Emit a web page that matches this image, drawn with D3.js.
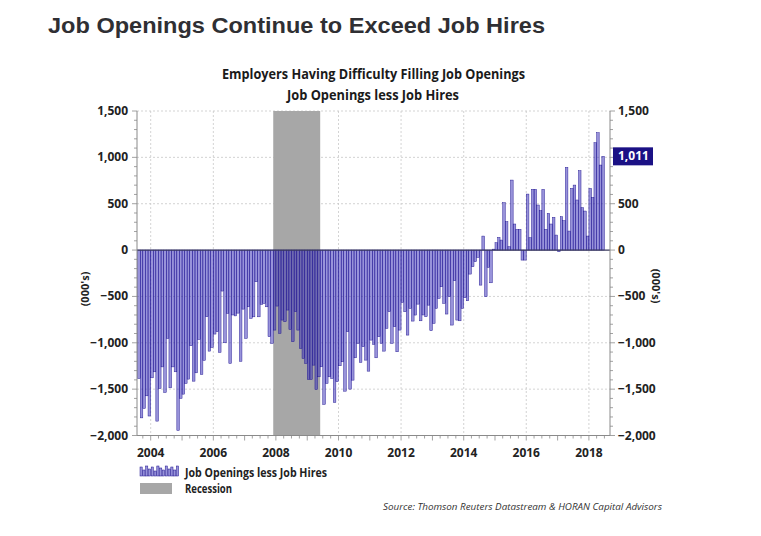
<!DOCTYPE html>
<html>
<head>
<meta charset="utf-8">
<script src="https://cdn.jsdelivr.net/npm/d3@7"></script>
<style>
  html, body { margin: 0; padding: 0; background: #fff; }
  svg { display: block; }
</style>
</head>
<body>
<svg id="chart" width="761" height="536"></svg>
<script>
// ---------------- DATA ----------------
const firstMonth = "2003-08-01";   // monthly series, Aug 2003 .. Jun 2018
const openingsLessHires = [
  -1385, -1810, -1708, -1572, -1790, -1378, -1313, -1845, -1493, -1260,
  -1536, -953, -1486, -1260, -1313, -1946, -1600, -1554, -1439, -1392,
  -1032, -1414, -1324, -964, -1342, -1190, -719, -1090, -1050, -906,
  -881, -1104, -442, -1000, -683, -1223,
  -700, -710, -680, -1200, -637, -953, -612, -737, -720, -342,
  -720, -586, -576, -612, -935, -1007, -863,
  -604, -899, -755, -773, -647, -856, -989, -665, -863, -1061,
  -1169, -1223, -1396, -1396, -1241, -1504, -1367, -1259,
  -1665, -1439, -1367, -1385, -1644, -1420, -1248, -1205, -1522, -881,
  -1500, -1403, -1162, -1007, -1212, -1043, -1187, -1306, -971, -1018,
  -1162, -935, -1007, -1090, -845, -665, -1007, -827, -1097, -863,
  -565, -665, -917, -630, -766, -701,
  -583, -763, -700, -719, -594, -870, -791, -629, -522, -396,
  -575, -690, -503, -809, -331, -755, -763, -629, -514, -547,
  -259, -180, -126, -79, -378, 151, -503, -187, -353, 10,
  79, 137, 108, 511, 306,
  36, 755, 281, 223, 223, -108, -108, 604, 133, 655,
  655, 486, 424, 655, 223, 396, 281, 353, 162, -18,
  360, 317, 892, 205, 665, 701, 540, 856, 457, 421,
  151, 665, 568, 1158, 1266, 917, 1011
];
const recession = ["2007-12-01", "2009-06-01"];
const yTicks = [1500, 1000, 500, 0, -500, -1000, -1500, -2000];
const yearTicks = [2004, 2006, 2008, 2010, 2012, 2014, 2016, 2018];
const lastLabel = "1,011";
const titleText = "Job Openings Continue to Exceed Job Hires";
const subtitle1 = "Employers Having Difficulty Filling Job Openings";
const subtitle2 = "Job Openings less Job Hires";
const axisTitle = "(000's)";
const legendSeries = "Job Openings less Job Hires";
const legendRecession = "Recession";
const sourceText = "Source: Thomson Reuters Datastream & HORAN Capital Advisors";

// ---------------- LAYOUT ----------------
const svg = d3.select("#chart");
const plotL = 137, plotR = 610, plotT = 111, plotB = 435.5;
const fmt = d3.format(",");
const labelFont = "'Liberation Sans Narrow', 'Open Sans', Lato, sans-serif";

const parse = d3.utcParse("%Y-%m-%d");
const t0 = parse(firstMonth);
const months = openingsLessHires.map((v, i) => ({ date: d3.utcMonth.offset(t0, i), value: v }));

const x = d3.scaleUtc()
  .domain([new Date(Date.UTC(2004, 0, 1)), new Date(Date.UTC(2018, 0, 1))])
  .range([150.7, 588.9]);
const y = d3.scaleLinear().domain([-2000, 1500]).range([plotB, plotT]);

// Title
svg.append("text")
  .attr("x", 48).attr("y", 33)
  .attr("font-family", "'Liberation Sans', Arial, Helvetica, sans-serif")
  .attr("font-weight", "bold").attr("font-size", 22.5)
  .attr("fill", "#2f2f33")
  .attr("textLength", 497).attr("lengthAdjust", "spacingAndGlyphs")
  .text(titleText);

// Subtitles
svg.append("text")
  .attr("x", 373.5).attr("y", 79).attr("text-anchor", "middle")
  .attr("font-family", labelFont).attr("font-weight", "bold").attr("font-size", 13.5)
  .attr("fill", "#1a1a1a")
  .attr("textLength", 303).attr("lengthAdjust", "spacingAndGlyphs")
  .text(subtitle1);
svg.append("text")
  .attr("x", 373).attr("y", 100).attr("text-anchor", "middle")
  .attr("font-family", labelFont).attr("font-weight", "bold").attr("font-size", 13.5)
  .attr("fill", "#1a1a1a")
  .attr("textLength", 172).attr("lengthAdjust", "spacingAndGlyphs")
  .text(subtitle2);

// Clip
svg.append("clipPath").attr("id", "plotclip")
  .append("rect").attr("x", plotL).attr("y", plotT - 2).attr("width", plotR - plotL).attr("height", plotB - plotT + 2);

const plot = svg.append("g").attr("clip-path", "url(#plotclip)");

// Grid lines
plot.selectAll("line.hgrid").data(yTicks.filter(d => d !== 0)).join("line")
  .attr("x1", plotL).attr("x2", plotR)
  .attr("y1", d => y(d)).attr("y2", d => y(d))
  .attr("stroke", "#c8c8c8").attr("stroke-width", 0.8).attr("stroke-dasharray", "2,2");
plot.selectAll("line.vgrid").data(yearTicks).join("line")
  .attr("x1", d => x(new Date(Date.UTC(d, 0, 1)))).attr("x2", d => x(new Date(Date.UTC(d, 0, 1))))
  .attr("y1", plotT).attr("y2", plotB)
  .attr("stroke", "#c8c8c8").attr("stroke-width", 0.8).attr("stroke-dasharray", "2,2");

// Recession
const r0 = parse(recession[0]), r1 = parse(recession[1]);
plot.append("rect")
  .attr("x", x(r0)).attr("y", plotT).attr("width", x(r1) - x(r0)).attr("height", plotB - plotT)
  .attr("fill", "#a7a7a7");

// Bars
plot.selectAll("rect.bar").data(months).join("rect")
  .attr("class", "bar")
  .attr("x", d => x(d.date))
  .attr("width", d => x(d3.utcMonth.offset(d.date, 1)) - x(d.date))
  .attr("y", d => y(Math.max(0, d.value)))
  .attr("height", d => Math.abs(y(d.value) - y(0)))
  .attr("fill", "#3a2fb8").attr("fill-opacity", 0.52)
  .attr("stroke", "#1e1290").attr("stroke-width", 0.45);

// Zero line
svg.append("line")
  .attr("x1", plotL).attr("x2", plotR).attr("y1", y(0)).attr("y2", y(0))
  .attr("stroke", "#3b3b5e").attr("stroke-width", 1.3);

// Axes lines
const axisCol = "#8a8a8a";
svg.append("line").attr("x1", plotL).attr("x2", plotL).attr("y1", plotT).attr("y2", plotB).attr("stroke", axisCol);
svg.append("line").attr("x1", plotR).attr("x2", plotR).attr("y1", plotT).attr("y2", plotB).attr("stroke", axisCol);
svg.append("line").attr("x1", plotL).attr("x2", plotR).attr("y1", plotB).attr("y2", plotB).attr("stroke", axisCol);

// Minor y ticks every 100
const minorY = d3.range(-2000, 1501, 100);
svg.selectAll("line.ytl").data(minorY).join("line")
  .attr("x1", d => plotL - (d % 500 === 0 ? 5 : 3)).attr("x2", plotL)
  .attr("y1", d => y(d)).attr("y2", d => y(d)).attr("stroke", axisCol).attr("stroke-width", 0.8);
svg.selectAll("line.ytr").data(minorY).join("line")
  .attr("x1", plotR).attr("x2", d => plotR + (d % 500 === 0 ? 5 : 3))
  .attr("y1", d => y(d)).attr("y2", d => y(d)).attr("stroke", axisCol).attr("stroke-width", 0.8);

// X ticks: quarterly minor, yearly major
const qTicks = d3.utcMonth.every(3).range(new Date(Date.UTC(2003, 6, 1)), new Date(Date.UTC(2018, 9, 1)))
  .filter(d => x(d) >= plotL && x(d) <= plotR);
svg.selectAll("line.xt").data(qTicks).join("line")
  .attr("x1", d => x(d)).attr("x2", d => x(d))
  .attr("y1", plotB).attr("y2", d => plotB + (d.getUTCMonth() === 0 ? 5 : 3))
  .attr("stroke", axisCol).attr("stroke-width", 0.8);

// Y tick labels
const tickFont = 12;
svg.selectAll("text.yl").data(yTicks).join("text")
  .attr("x", plotL - 9).attr("y", d => y(d) + 4).attr("text-anchor", "end")
  .attr("font-family", labelFont).attr("font-weight", "bold").attr("font-size", tickFont)
  .attr("fill", "#222").text(d => fmt(d));
svg.selectAll("text.yr").data(yTicks).join("text")
  .attr("x", plotR + 8).attr("y", d => y(d) + 4).attr("text-anchor", "start")
  .attr("font-family", labelFont).attr("font-weight", "bold").attr("font-size", tickFont)
  .attr("fill", "#222").text(d => fmt(d));

// X labels
svg.selectAll("text.xl").data(yearTicks).join("text")
  .attr("x", d => x(new Date(Date.UTC(d, 0, 1)))).attr("y", 457).attr("text-anchor", "middle")
  .attr("font-family", labelFont).attr("font-weight", "bold").attr("font-size", tickFont)
  .attr("fill", "#222").text(d => d);

// Axis titles
svg.append("text")
  .attr("transform", "translate(89,289) rotate(-90)").attr("text-anchor", "middle")
  .attr("font-family", labelFont).attr("font-weight", "bold").attr("font-size", 11)
  .attr("fill", "#222").text(axisTitle);
svg.append("text")
  .attr("transform", "translate(652,286) rotate(90)").attr("text-anchor", "middle")
  .attr("font-family", labelFont).attr("font-weight", "bold").attr("font-size", 11)
  .attr("fill", "#222").text(axisTitle);

// Last value label
const last = months[months.length - 1];
svg.append("rect")
  .attr("x", plotR + 3).attr("y", y(last.value) - 9).attr("width", 40).attr("height", 18)
  .attr("fill", "#1b1185");
svg.append("text")
  .attr("x", plotR + 8).attr("y", y(last.value) + 4)
  .attr("font-family", labelFont).attr("font-weight", "bold").attr("font-size", tickFont)
  .attr("fill", "#fff").text(lastLabel);

// Legend
const lg = svg.append("g");
const iconH = [9, 6, 10, 7, 9, 5, 10, 8, 6, 10, 7, 9, 6, 10];
lg.selectAll("rect.li").data(iconH).join("rect")
  .attr("x", (d, i) => 140 + i * 2.8).attr("y", d => 476 - d)
  .attr("width", 2.2).attr("height", d => d)
  .attr("fill", "#3a2fb8").attr("fill-opacity", 0.52)
  .attr("stroke", "#1e1290").attr("stroke-width", 0.5);
lg.append("text").attr("x", 185).attr("y", 477)
  .attr("font-family", labelFont).attr("font-weight", "bold").attr("font-size", 12.5)
  .attr("fill", "#222")
  .attr("textLength", 142).attr("lengthAdjust", "spacingAndGlyphs")
  .text(legendSeries);
lg.append("rect").attr("x", 140).attr("y", 483).attr("width", 32).attr("height", 11).attr("fill", "#a7a7a7");
lg.append("text").attr("x", 185).attr("y", 493)
  .attr("font-family", labelFont).attr("font-weight", "bold").attr("font-size", 12.5)
  .attr("fill", "#222")
  .attr("textLength", 47).attr("lengthAdjust", "spacingAndGlyphs")
  .text(legendRecession);

// Source
svg.append("text")
  .attr("x", 662).attr("y", 510).attr("text-anchor", "end")
  .attr("font-family", labelFont).attr("font-style", "italic").attr("font-size", 9.5)
  .attr("fill", "#333")
  .attr("textLength", 279).attr("lengthAdjust", "spacingAndGlyphs")
  .text(sourceText);
</script>
</body>
</html>
